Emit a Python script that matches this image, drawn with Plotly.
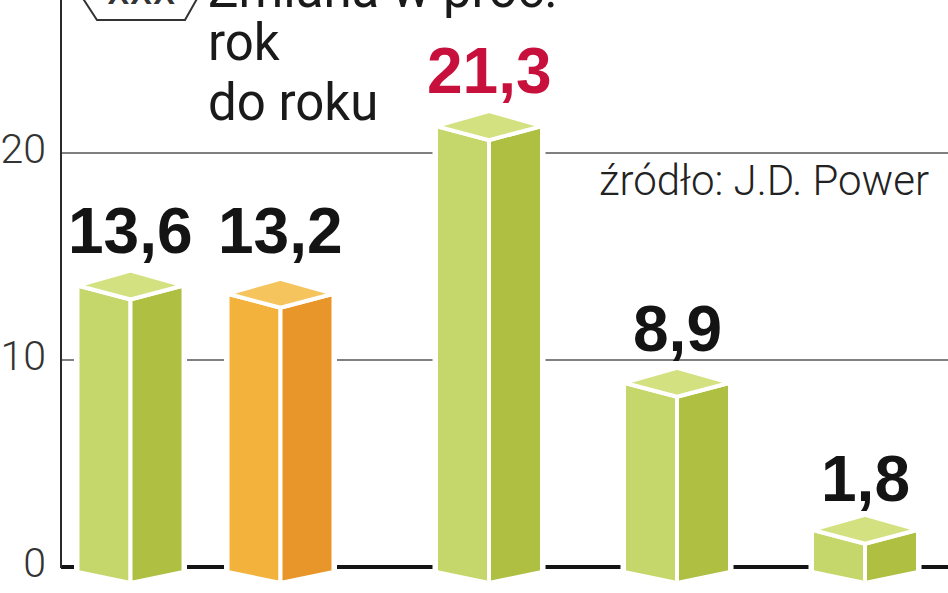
import plotly.graph_objects as go

# ---- data ----
values = [13.6, 13.2, 21.3, 8.9, 1.8]
value_labels = ["13,6", "13,2", "21,3", "8,9", "1,8"]
tick_vals = [0, 10, 20]
tick_text = ["0", "10", "20"]

# ---- positions / styles ----
bar_centers = [130.5, 280.5, 489, 677, 865]
label_nudge = [0, 9, 1, 0, -3]          # extra pixel lift of each value label
bar_palette = ["green", "orange", "green", "green", "green"]
label_colors = ["#141414", "#141414", "#c8103c", "#141414", "#141414"]
faces = {
    "green": {"left": "#c5d76b", "right": "#aebf41", "top": "#d4e180"},
    "orange": {"left": "#f2b23c", "right": "#e8952a", "top": "#f6c45c"},
}

W, H = 948, 593
ML = 61
PX = 20.7                      # pixels per unit on y
BASE_PY = 567                  # pixel row of zero
y_min = -(H - BASE_PY) / PX
y_max = BASE_PY / PX
HALF = 53
top_front = -14 / PX
top_back = 15 / PX
bot_side = -5 / PX
bot_front = -16 / PX


def px_y(py):
    return 1 - py / H


def px_x(px):
    return (px - ML) / (W - ML)


fig = go.Figure()


def poly(xs, ys, fill, lw):
    fig.add_trace(go.Scatter(
        x=xs + [xs[0]], y=ys + [ys[0]], mode="lines", fill="toself",
        fillcolor=fill, line=dict(color="white", width=lw),
        hoverinfo="skip", showlegend=False))


for c, v, pal in zip(bar_centers, values, bar_palette):
    col = faces[pal]
    # white silhouette halo
    poly([c - HALF, c, c + HALF, c + HALF, c, c - HALF],
         [bot_side, bot_front, bot_side, v, v + top_back, v], "white", 7)
    poly([c - HALF, c, c, c - HALF],
         [bot_side, bot_front, v + top_front, v], col["left"], 4)
    poly([c, c + HALF, c + HALF, c],
         [bot_front, bot_side, v, v + top_front], col["right"], 4)
    poly([c - HALF, c, c + HALF, c],
         [v, v + top_front, v, v + top_back], col["top"], 4)

annotations = []
for c, v, lab, lc, nd in zip(bar_centers, values, value_labels, label_colors,
                             label_nudge):
    annotations.append(dict(
        x=c, y=v + top_back, xref="x", yref="y", text=lab, showarrow=False,
        xanchor="center", yanchor="bottom", yshift=1 + nd,
        font=dict(family="Liberation Sans", size=64, color=lc, weight="bold")))

# header texts
head_font = dict(family="Roboto", size=51, color="#1a1a1a")
for txt, base in [("Zmiana w proc.", 9), ("rok", 62), ("do roku", 122)]:
    annotations.append(dict(
        x=px_x(206), y=px_y(base + 0.21 * 51 + 1), xref="paper", yref="paper",
        text=txt, showarrow=False, xanchor="left", yanchor="bottom",
        font=head_font))
annotations.append(dict(
    x=px_x(141), y=px_y(6 + 0.21 * 46 + 1), xref="paper", yref="paper",
    text="xxx", showarrow=False, xanchor="center", yanchor="bottom",
    font=dict(family="Roboto", size=46, color="#333333")))
annotations.append(dict(
    x=px_x(931), y=px_y(197 + 0.21 * 42 + 1), xref="paper", yref="paper",
    text="źródło: J.D. Power", showarrow=False, xanchor="right", yanchor="bottom",
    font=dict(family="Roboto", size=42, color="#222222", weight=300)))

shapes = [
    # vertical axis line (top down to baseline)
    dict(type="line", xref="paper", yref="paper", x0=px_x(61), x1=px_x(61),
         y0=px_y(BASE_PY + 1), y1=1.02, line=dict(color="#2a2a2a", width=2)),
    # hexagon badge
    dict(type="path", xref="paper", yref="paper",
         path="M {} {} L {} {} L {} {} L {} {} L {} {} L {} {} Z".format(
             px_x(82), px_y(-3), px_x(97), px_y(20), px_x(185), px_y(20),
             px_x(198), px_y(-3), px_x(185), px_y(-26), px_x(97), px_y(-26)),
         line=dict(color="#333333", width=2), fillcolor="rgba(0,0,0,0)"),
]

fig.update_layout(
    width=W, height=H, template="none",
    margin=dict(l=ML, r=0, t=0, b=0),
    paper_bgcolor="white", plot_bgcolor="white",
    showlegend=False, annotations=annotations, shapes=shapes,
    xaxis=dict(range=[ML, W], visible=False, fixedrange=True),
    yaxis=dict(range=[y_min, y_max], tickvals=tick_vals, ticktext=tick_text,
               showgrid=True, gridcolor="#808080", gridwidth=1.5,
               zeroline=True, zerolinecolor="#141414", zerolinewidth=4,
               showline=False, ticks="", ticklabelstandoff=14,
               ticklabelshift=-4, automargin=False, fixedrange=True,
               tickfont=dict(family="Roboto", size=41, color="#333333",
                             weight=300)),
)

fig.write_html("out.html", config={"displayModeBar": False},
               post_script="document.body.style.margin='0';"
                           "document.body.style.overflow='hidden';")
